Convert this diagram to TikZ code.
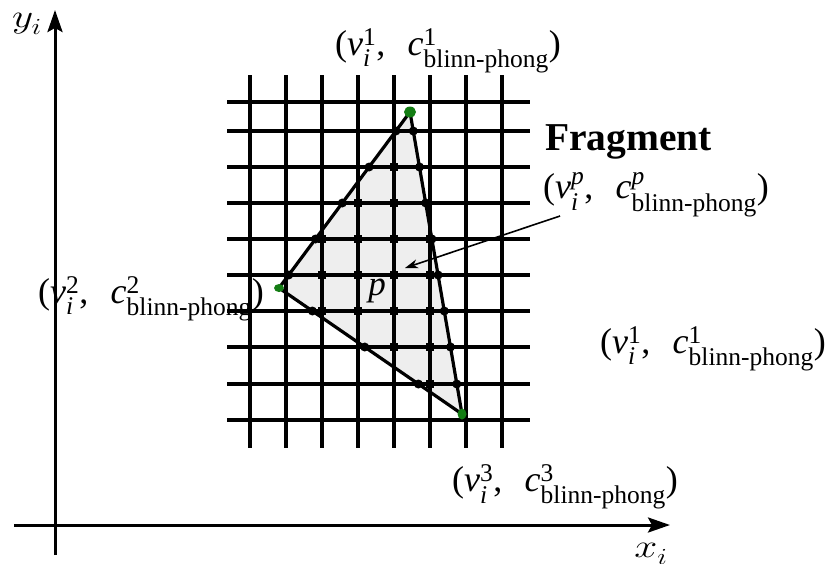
\documentclass[tikz,border=0pt]{standalone}
\usepackage{fontspec}
\setmainfont{Liberation Serif}
\usepackage{amsmath}
\usetikzlibrary{arrows.meta,shapes.geometric}
\DeclareFontShape{OML}{cmm}{m}{it}{<-6>cmmi5<6-7>cmmi6<7-8>cmmi7<8-9>cmmi8<9-10>cmmi9<10-12>cmmi10<12->cmmi12}{}
\DeclareMathSizes{36}{36}{25.5}{18}
\DeclareMathSizes{33}{33}{23}{16}
\definecolor{blobgreen}{RGB}{20,125,20}
\definecolor{trifill}{RGB}{238,238,238}
\newcommand{\vclab}[1]{$\text{(}\textit{v}^{\text{#1}}_{\textit{i}}\text{,}\hspace{0.62em}\textit{c}^{\text{#1}}_{\text{blinn-phong}}\text{)}$}
\newcommand{\vclabp}{$\text{(}\textit{v}^{\textit{p}}_{\textit{i}}\text{,}\hspace{0.62em}\textit{c}^{\textit{p}}_{\text{blinn-phong}}\text{)}$}
\tikzset{
  gridline/.style={line width=3.2pt, black},
  edgeline/.style={line width=3.2pt, black, line join=round},
  axisline/.style={line width=3pt, black, -{Stealth[length=22pt,width=15pt,inset=4pt]}},
  dotc/.style={circle, fill=black, inner sep=0pt, minimum size=9pt},
  dotsq/.style={rectangle, fill=black, inner sep=0pt, minimum size=8.5pt},
  blob/.style={ellipse, fill=blobgreen, inner sep=0pt},
  lbl/.style={inner sep=0pt, anchor=base west, font=\fontsize{36}{40}\selectfont},
  axlbl/.style={inner sep=0pt, font=\fontsize{33}{38}\selectfont},
}
\begin{document}
\begin{tikzpicture}[x=1pt, y=-1pt]
\path[use as bounding box] (0,0) rectangle (827,563);
% axes
\coordinate (yb) at (55,555);
\coordinate (yt) at (55,10);
\coordinate (xl) at (14,525);
\coordinate (xr) at (670,525);
\draw[axisline] (yb) -- (yt);
\draw[axisline] (xl) -- (xr);
\node[axlbl] (ylab) at (27,24) {\scalebox{1.25}[1]{$y_i$}};
\node[axlbl] (xlab) at (651,554) {\scalebox{1.25}[1]{$x_i$}};
% triangle
\coordinate (A) at (410,112);
\coordinate (B) at (279,288);
\coordinate (C) at (462,414);
\fill[trifill] (A) -- (B) -- (C) -- cycle;
% grid
\foreach \x in {250,286,322,358,394,430,466,502} \draw[gridline] (\x,75) -- (\x,448);
\foreach \y in {102,131,167,203,239,275,311,347,384,420} \draw[gridline] (227,\y) -- (530,\y);
\draw[edgeline] (A) -- (B) -- (C) -- cycle;
% interior samples
\foreach \x/\y [count=\i] in {394/167, 358/203, 394/203, 322/239, 358/239, 394/239, 430/239,
  322/275, 358/275, 394/275, 430/275, 322/311, 358/311, 394/311, 430/311, 394/347, 430/347, 430/384}
  \node[dotsq] (sq\i) at (\x,\y) {};
% edge samples
\foreach \x/\y [count=\i] in {395.9/131, 369.1/167, 342.3/203, 315.5/239, 288.7/275,
  413.3/131, 419.5/167, 425.7/203, 431.9/239, 438.1/275, 444.3/311, 450.5/347, 456.8/384,
  312.4/311, 364.7/347, 418.4/384}
  \node[dotc] (ed\i) at (\x,\y) {};
% vertices
\node[blob, minimum width=12pt, minimum height=11pt] (vA) at (A) {};
\node[blob, minimum width=10pt, minimum height=8pt] (vB) at (B) {};
\node[blob, minimum width=9pt, minimum height=11pt] (vC) at (C) {};
% labels
\node[lbl] (l1) at (335,55) {\vclab{1}};
\node[lbl] (l2) at (38,303) {\vclab{2}};
\node[lbl] (l3) at (452,491) {\vclab{3}};
\node[lbl] (l4) at (600,353) {\vclab{1}};
\node[lbl, font=\fontsize{39.5}{44}\selectfont\bfseries] (frag) at (545,150) {Fragment};
\node[lbl] (lp) at (543,198) {\vclabp};
\node[inner sep=0pt, font=\fontsize{35}{40}\selectfont\itshape] (p) at (377,291) {p};
% arrow
\coordinate (arS) at (560,216);
\coordinate (arE) at (405,268);
\draw[line width=1.6pt, -{Stealth[length=13pt,width=9pt,inset=4pt]}] (arS) -- (arE);
\end{tikzpicture}
\end{document}
